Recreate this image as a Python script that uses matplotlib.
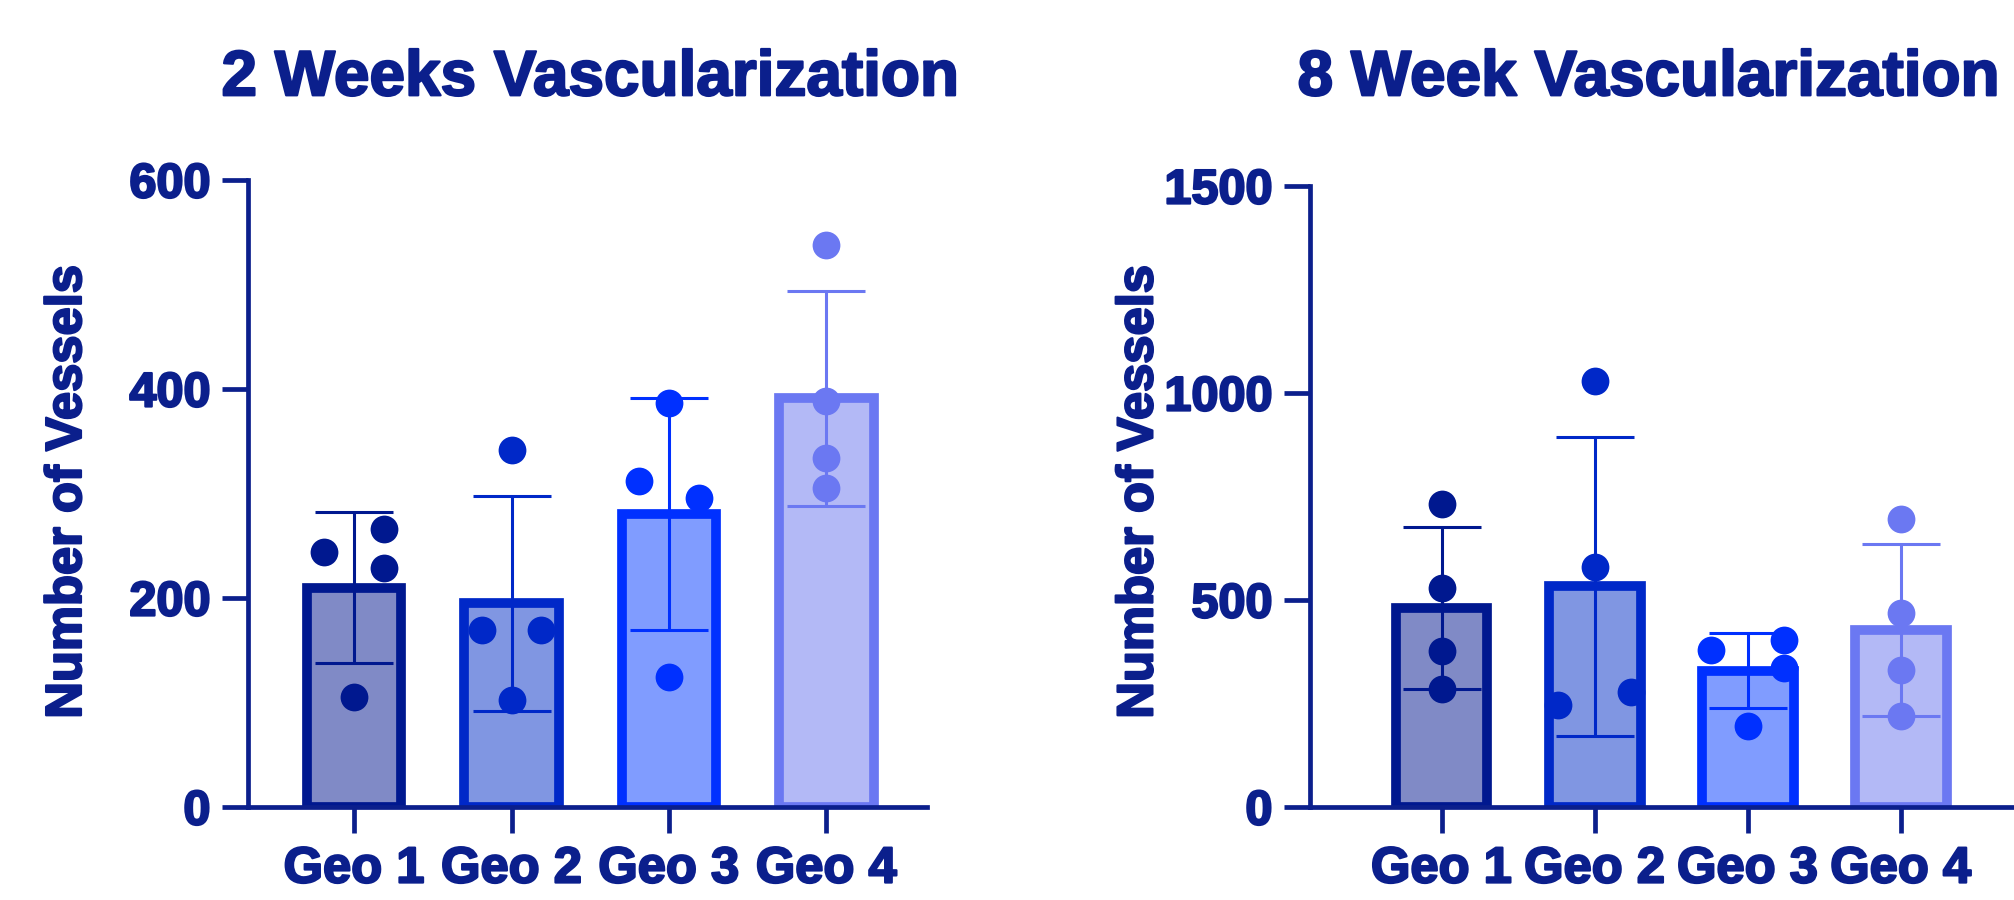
import matplotlib
matplotlib.use("Agg")
import matplotlib.pyplot as plt
import matplotlib.patheffects as pe
import numpy as np

categories = ["Geo 1", "Geo 2", "Geo 3", "Geo 4"]

# 2 weeks
w2_means = [210, 195, 280, 391]
w2_sd = [72, 103, 111, 103]
w2_points = [
    [244, 266, 229, 105],
    [342, 169, 169, 102],
    [387, 312, 296, 124],
    [538, 389, 334, 305],
]
w2_offsets = [[-0.19, 0.19, 0.19, 0.0], [0.0, -0.19, 0.19, 0.0],
              [0.0, -0.19, 0.19, 0.0], [0.0, 0.0, 0.0, 0.0]]

# 8 weeks
w8_means = [481, 533, 329, 428]
w8_sd = [195, 362, 91, 207]
w8_points = [
    [733, 529, 377, 284],
    [1028, 580, 246, 278],
    [379, 404, 337, 196],
    [695, 468, 330, 219],
]
w8_offsets = [[0.0, 0.0, 0.0, 0.0], [0.0, 0.0, -0.24, 0.24],
              [-0.24, 0.24, 0.24, 0.0], [0.0, 0.0, 0.0, 0.0]]

edge_colors = ["#00188f", "#0028c8", "#0030ff", "#6b78f2"]
fill_colors = ["#808ac6", "#8096e2", "#809cff", "#b3b9f6"]
text_color = "#0b1f8c"

plt.rcParams['font.family'] = ['Liberation Sans', 'DejaVu Sans']
plt.rcParams['font.weight'] = 'bold'

fig = plt.figure(figsize=(20.14, 9.0), dpi=100)
heavy = [pe.withStroke(linewidth=1.6, foreground=text_color)]


def draw(ax, means, sds, points, offsets, ylim, yticks, xlim, title, title_x,
         ylabel_x):
    x = np.arange(len(categories))
    for i in range(len(categories)):
        ax.bar(x[i], means[i], width=0.6, color=fill_colors[i],
               edgecolor=edge_colors[i], linewidth=7, zorder=2)
        ax.errorbar(x[i], means[i], yerr=sds[i], fmt="none",
                    ecolor=edge_colors[i], elinewidth=2.2, capsize=28,
                    capthick=2.2, zorder=3)
        ax.scatter(x[i] + np.array(offsets[i]), points[i], s=400,
                   color=edge_colors[i], zorder=4, linewidths=0,
                   clip_on=False)
    ax.set_ylim(*ylim)
    ax.set_xlim(*xlim)
    ax.set_yticks(yticks)
    ax.set_xticks(x)
    ax.set_xticklabels(categories)
    for s in ["top", "right"]:
        ax.spines[s].set_visible(False)
    for s in ["left", "bottom"]:
        ax.spines[s].set_linewidth(3.4)
        ax.spines[s].set_color(text_color)
    ax.tick_params(axis="both", colors=text_color, width=3.4, length=19,
                   pad=8)
    ax.tick_params(axis="x", labelsize=36.5)
    ax.tick_params(axis="y", labelsize=35)
    for lab in ax.get_xticklabels() + ax.get_yticklabels():
        lab.set_fontweight("bold")
        lab.set_color(text_color)
        lab.set_path_effects(heavy)
    fig.text(ylabel_x, 0.454, "Number of Vessels", fontsize=36.5,
             fontweight="bold", color=text_color, rotation=90,
             ha="center", va="center", path_effects=heavy)
    fig.text(title_x, 0.913, title, fontsize=46, fontweight="bold",
             color=text_color, ha="center", va="center", path_effects=heavy)


ax1 = fig.add_axes([0.1231, 0.1033, 0.3372, 0.6967])
draw(ax1, w2_means, w2_sd, w2_points, w2_offsets, (0, 600),
     [0, 200, 400, 600], (-0.675, 3.64), "2 Weeks Vascularization", 0.293,
     0.0335)

ax2 = fig.add_axes([0.6504, 0.1033, 0.3496, 0.6900])
draw(ax2, w8_means, w8_sd, w8_points, w8_offsets, (0, 1500),
     [0, 500, 1000, 1500], (-0.86, 3.74), "8 Week Vascularization", 0.8185,
     0.5655)

fig.savefig("out.png", dpi=100)
